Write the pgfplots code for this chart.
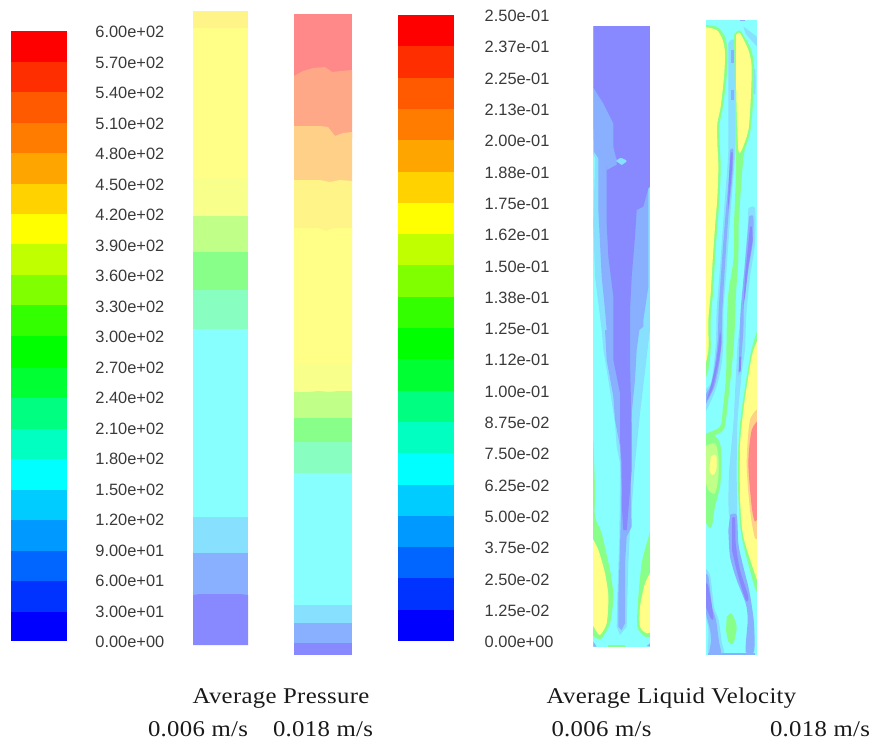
\documentclass[border=0pt]{standalone}
\usepackage{pgfplots}
\pgfplotsset{compat=1.18}
\usepackage{fontspec}
\setmainfont{Liberation Sans}
\newfontfamily\ttl[LetterSpace=1.5,FakeStretch=1.1]{Liberation Serif}
\definecolor{lab}{HTML}{3A3A3A}
\definecolor{P}{HTML}{8888FF}
\definecolor{B}{HTML}{88B0FF}
\definecolor{A}{HTML}{88E0FF}
\definecolor{C}{HTML}{88FFFF}
\definecolor{T}{HTML}{88FFC0}
\definecolor{G}{HTML}{88FF88}
\definecolor{L}{HTML}{C0FF88}
\definecolor{V}{HTML}{F8FF8A}
\definecolor{Y}{HTML}{FFFF88}
\definecolor{W}{HTML}{FFF488}
\definecolor{O}{HTML}{FFD088}
\definecolor{S}{HTML}{FFA888}
\definecolor{R}{HTML}{FF8888}
\definecolor{k1}{HTML}{FF0000}
\definecolor{k2}{HTML}{FF2E00}
\definecolor{k3}{HTML}{FF5A00}
\definecolor{k4}{HTML}{FF7C00}
\definecolor{k5}{HTML}{FFA500}
\definecolor{k6}{HTML}{FFD200}
\definecolor{k7}{HTML}{FFFF00}
\definecolor{k8}{HTML}{C0FF00}
\definecolor{k9}{HTML}{80FF00}
\definecolor{k10}{HTML}{33FF00}
\definecolor{k11}{HTML}{00FF00}
\definecolor{k12}{HTML}{00FF33}
\definecolor{k13}{HTML}{00FF80}
\definecolor{k14}{HTML}{00FFC0}
\definecolor{k15}{HTML}{00FFFF}
\definecolor{k16}{HTML}{00CCFF}
\definecolor{k17}{HTML}{0099FF}
\definecolor{k18}{HTML}{0066FF}
\definecolor{k19}{HTML}{0033FF}
\definecolor{k20}{HTML}{0000FF}
\newcommand\band[5]{\addplot[draw=none,fill=#5,forget plot] coordinates {(#1,#3) (#2,#3) (#2,#4) (#1,#4)} -- cycle;}
\newcommand\poly[2]{\addplot[draw=none,fill=#1,forget plot] coordinates {#2} -- cycle;}
\newcommand\spoly[2]{\addplot[draw=none,fill=#1,forget plot,smooth,tension=0.45] coordinates {#2} -- cycle;}
\newcommand\tick[3]{\node[anchor=east,text=lab,font=\fontsize{16.4}{18}\selectfont,inner sep=0pt] at (axis cs:#1,#2) {#3};}
\newcommand\tickw[3]{\node[anchor=west,text=lab,font=\fontsize{16.4}{18}\selectfont,inner sep=0pt] at (axis cs:#1,#2) {#3};}
\newcommand\ttxt[2]{\node[anchor=base,text=black!90,font=\ttl\fontsize{22.5}{24}\selectfont,inner sep=0pt] at (axis cs:#1) {#2};}
\pgfplotsset{base/.style={at={(0,0)},anchor=south west,scale only axis,width=874pt,height=744pt,hide axis,clip=false,y dir=reverse,no markers}}
\begin{document}
\begin{tikzpicture}
\useasboundingbox (0,0) rectangle (874pt,744pt);
% velocity panels, in the units of a 3x enlargement
\begin{axis}[base,xmin=-1740,xmax=882,ymin=-30,ymax=2202]
% --- 0.006 m/s
\band{40}{210}{48}{1910}{C}
\spoly{G}{(40,1280) (45,1440) (45,1520) (65,1570) (90,1680) (100,1760) (90,1840) (65,1885) (50,1885) (30,1870)}
\spoly{Y}{(35,1580) (55,1620) (75,1690) (85,1760) (80,1840) (60,1875) (50,1865) (35,1840)}
\spoly{G}{(215,1550) (200,1600) (185,1660) (175,1760) (172,1850) (195,1880) (215,1880)}
\spoly{Y}{(215,1680) (195,1720) (180,1790) (180,1850) (200,1870) (215,1865)}
\poly{A}{(40,230) (210,230) (210,960) (205,1000) (180,1210) (165,1360) (150,1560) (145,1660) (140,1850) (120,1875) (110,1850) (112,1760) (118,1580) (120,1360) (110,1310) (105,1240) (85,1110) (70,1020) (65,960) (55,880) (45,800) (40,640) (45,445) (40,430)}
\poly{B}{(40,232) (40,340) (42,425) (55,445) (55,600) (60,700) (65,800) (75,900) (80,960) (75,960) (80,1050) (100,1160) (105,1230) (120,1310) (125,1440) (120,1610) (115,1760) (115,1850) (125,1860) (135,1840) (135,1660) (140,1580) (155,1550) (150,1330) (155,1210) (165,1110) (170,1020) (178,960) (190,950) (190,930) (205,830) (205,535) (210,530) (210,232)}
\poly{P}{(40,48) (210,48) (210,530) (205,535) (190,590) (170,600) (165,680) (155,800) (150,900) (150,1060) (155,1260) (155,1380) (140,1560) (130,1560) (125,1480) (125,1360) (120,1290) (120,1150) (100,1050) (100,860) (85,740) (80,640) (80,470) (110,450) (100,410) (100,340) (70,280) (40,232)}
\poly{B}{(80,470) (110,446) (110,464) (80,480)}
\spoly{A}{(108,453) (122,444) (140,453) (125,465)}
\poly{B}{(40,1895) (50,1910) (40,1910)}
\poly{B}{(200,1908) (210,1900) (210,1910)}
\poly{G}{(85,1905) (135,1905) (135,1910) (85,1910)}
% --- 0.018 m/s
\band{378}{530}{30}{1935}{C}
\spoly{A}{(490,50) (535,85) (535,112) (497,72)}
\poly{B}{(480,30) (495,30) (495,34) (480,34)}
\spoly{A}{(520,180) (526,180) (526,250) (520,250)}
% left yellow with green rim
\spoly{G}{(370,45) (410,50) (435,80) (443,130) (440,200) (429,290) (419,340) (419,400) (422,470) (419,560) (412,650) (405,750) (399,850) (392,930) (392,1020) (385,1080) (370,1120)}
\spoly{Y}{(370,50) (410,60) (428,90) (435,130) (432,200) (422,290) (412,340) (412,400) (415,470) (412,560) (405,650) (398,750) (392,850) (385,930) (385,1020) (370,1090)}
% middle blue streak
\spoly{A}{(445,100) (465,100) (467,330) (466,420) (460,500) (452,600) (445,700) (438,800) (430,900) (430,990) (425,1060) (410,1130) (385,1190) (370,1210) (370,1150) (392,1120) (402,1060) (408,990) (410,900) (418,800) (425,700) (432,600) (440,500) (445,420) (445,330)}
\poly{B}{(452,120) (461,120) (461,158) (452,158)}
\poly{B}{(453,240) (462,240) (462,270) (453,270)}
\spoly{B}{(450,420) (460,420) (457,500) (445,620) (436,750) (427,900) (425,990) (418,1060) (403,1130) (370,1195) (370,1165) (393,1125) (405,1060) (413,990) (416,900) (426,750) (436,620) (447,500)}
\spoly{P}{(452,430) (458,430) (454,500) (444,600) (447,500)}
\spoly{P}{(420,960) (424,1000) (415,1060) (398,1135) (380,1170) (393,1125) (408,1060) (416,1000)}
% second yellow with green rim and band
\spoly{G}{(462,75) (480,62) (512,115) (522,170) (519,280) (510,370) (492,430) (484,520) (476,640) (475,750) (468,850) (464,960) (460,1020) (448,1140) (436,1240) (425,1265) (370,1290) (370,1275) (420,1250) (428,1200) (438,1100) (440,960) (445,850) (460,750) (462,640) (468,480) (466,300) (464,200)}
\spoly{Y}{(468,75) (480,70) (505,120) (515,170) (512,270) (505,360) (485,420) (475,420) (470,300) (468,200)}
% lobe at mid height
\spoly{G}{(370,1280) (400,1275) (420,1300) (425,1360) (420,1430) (405,1490) (395,1550) (385,1550) (370,1520)}
\spoly{L}{(372,1310) (405,1300) (415,1340) (415,1400) (405,1450) (385,1440) (372,1400)}
\spoly{Y}{(392,1340) (408,1335) (410,1370) (405,1390) (395,1395) (388,1380)}
% right streaks
\spoly{A}{(505,595) (525,595) (525,700) (510,800) (500,900) (497,960) (495,1020) (485,1090) (472,1240) (470,1390) (470,1515) (447,1515) (447,1390) (460,1240) (468,1090) (473,1000) (478,960) (488,850) (495,750) (503,650)}
\spoly{B}{(507,620) (520,620) (518,700) (503,790) (492,880) (490,960) (484,1040) (478,1090) (476,1090) (478,1000) (482,900) (494,770)}
\poly{P}{(510,650) (516,650) (518,690) (505,770) (495,860) (490,885) (495,800) (503,720)}
\poly{P}{(478,1040) (484,1040) (482,1085) (476,1085)}
\spoly{B}{(450,1515) (470,1515) (475,1600) (485,1650) (505,1730) (511,1760) (522,1840) (522,1925) (497,1925) (503,1830) (497,1780) (470,1710) (450,1640) (445,1560)}
\spoly{P}{(456,1525) (465,1525) (467,1600) (480,1680) (505,1760) (497,1770) (472,1690) (456,1620)}
\spoly{G}{(440,1820) (455,1810) (470,1850) (460,1900) (445,1895) (438,1860)}
% right yellow and red lobe
\spoly{G}{(535,950) (512,1030) (485,1200) (475,1310) (475,1460) (485,1580) (525,1735) (535,1735)}
\spoly{Y}{(535,985) (515,1040) (490,1200) (480,1310) (480,1460) (490,1580) (535,1722)}
\spoly{O}{(540,1190) (510,1230) (500,1360) (510,1500) (525,1585) (540,1575)}
\spoly{R}{(540,1225) (515,1260) (505,1360) (515,1490) (525,1535) (540,1510)}
% lower left
\spoly{A}{(370,1670) (390,1695) (402,1790) (416,1830) (425,1895) (432,1935) (385,1935) (385,1880) (384,1850) (370,1790)}
\spoly{B}{(370,1690) (385,1700) (396,1790) (408,1830) (417,1895) (423,1935) (388,1935) (393,1895) (390,1860) (370,1780)}
\spoly{P}{(370,1725) (384,1725) (400,1820) (392,1825) (370,1770)}
\poly{B}{(385,1930) (525,1930) (525,1935) (385,1935)}
% tidy the edges of the panels
\band{20}{40}{20}{1930}{white}
\band{210}{230}{20}{1930}{white}
\band{355}{378}{20}{1950}{white}
\band{530}{550}{20}{1950}{white}
\band{355}{550}{1935}{1960}{white}
\band{20}{230}{1910}{1930}{white}
\end{axis}
\begin{axis}[base,xmin=0,xmax=874,ymin=0,ymax=744]
% left colour bar
\band{11}{67}{31}{62}{k1}
\band{11}{67}{61.7}{92.3}{k2}
\band{11}{67}{92}{123}{k3}
\band{11}{67}{122.7}{153.3}{k4}
\band{11}{67}{153}{184}{k5}
\band{11}{67}{183.7}{214.3}{k6}
\band{11}{67}{214}{244.6}{k7}
\band{11}{67}{244.3}{275.3}{k8}
\band{11}{67}{275}{305.6}{k9}
\band{11}{67}{305.3}{336.3}{k10}
\band{11}{67}{336}{368}{k11}
\band{11}{67}{367.7}{398.6}{k12}
\band{11}{67}{398.3}{429}{k13}
\band{11}{67}{428.7}{459.6}{k14}
\band{11}{67}{459.3}{490.3}{k15}
\band{11}{67}{490}{520.3}{k16}
\band{11}{67}{520}{551.3}{k17}
\band{11}{67}{551}{581.3}{k18}
\band{11}{67}{581}{612}{k19}
\band{11}{67}{611.7}{641}{k20}
% right colour bar
\band{398}{454}{15}{46.6}{k1}
\band{398}{454}{46.3}{77.9}{k2}
\band{398}{454}{77.6}{109.2}{k3}
\band{398}{454}{108.9}{140.5}{k4}
\band{398}{454}{140.2}{171.8}{k5}
\band{398}{454}{171.5}{203.1}{k6}
\band{398}{454}{202.8}{234.4}{k7}
\band{398}{454}{234.1}{265.7}{k8}
\band{398}{454}{265.4}{297}{k9}
\band{398}{454}{296.7}{328.3}{k10}
\band{398}{454}{328}{359.6}{k11}
\band{398}{454}{359.3}{390.9}{k12}
\band{398}{454}{390.6}{422.2}{k13}
\band{398}{454}{421.9}{453.5}{k14}
\band{398}{454}{453.2}{484.8}{k15}
\band{398}{454}{484.5}{516.1}{k16}
\band{398}{454}{515.8}{547.4}{k17}
\band{398}{454}{547.1}{578.7}{k18}
\band{398}{454}{578.4}{610}{k19}
\band{398}{454}{609.7}{641}{k20}
% pressure 0.006
\band{193}{248}{11}{28.5}{W}
\band{193}{248}{28}{178.5}{Y}
\band{193}{248}{178}{216.5}{V}
\band{193}{248}{216}{252.5}{L}
\band{193}{248}{252}{290.5}{G}
\band{193}{248}{290}{329.5}{T}
\band{193}{248}{329}{517.5}{C}
\band{193}{248}{517}{553.5}{A}
\band{193}{248}{553}{595}{B}
\poly{P}{(193,595) (200,594) (240,594) (248,595) (248,645) (193,645)}
% pressure 0.018
\band{294}{352}{14}{80}{R}
\poly{S}{(294,76) (303,71) (313,68) (325,67) (332,72) (341,71) (352,70) (352,138) (294,138)}
\poly{O}{(294,126) (320,126) (328,127) (335,136) (343,133) (352,132) (352,182) (294,182)}
\poly{W}{(294,180) (320,180) (330,182) (340,180) (352,181) (352,232) (294,232)}
\poly{Y}{(294,228) (318,228) (326,231) (334,228) (352,228) (352,364) (294,364)}
\band{294}{352}{363}{393}{V}
\poly{L}{(294,392) (310,392) (318,391) (330,392) (338,391) (352,391) (352,418.5) (294,418.5)}
\band{294}{352}{418}{443}{G}
\band{294}{352}{442}{474}{T}
\band{294}{352}{473}{605.5}{C}
\band{294}{352}{605}{623.5}{A}
\band{294}{352}{623}{643.5}{B}
\band{294}{352}{643}{655}{P}
% tick labels
\tick{164.5}{32}{6.00e+02}
\tick{164.5}{62.5}{5.70e+02}
\tick{164.5}{93}{5.40e+02}
\tick{164.5}{123.5}{5.10e+02}
\tick{164.5}{154}{4.80e+02}
\tick{164.5}{184.5}{4.50e+02}
\tick{164.5}{215}{4.20e+02}
\tick{164.5}{245.5}{3.90e+02}
\tick{164.5}{276}{3.60e+02}
\tick{164.5}{306.5}{3.30e+02}
\tick{164.5}{337}{3.00e+02}
\tick{164.5}{367.5}{2.70e+02}
\tick{164.5}{398}{2.40e+02}
\tick{164.5}{428.5}{2.10e+02}
\tick{164.5}{459}{1.80e+02}
\tick{164.5}{489.5}{1.50e+02}
\tick{164.5}{520}{1.20e+02}
\tick{164.5}{550.5}{9.00e+01}
\tick{164.5}{581}{6.00e+01}
\tick{164.5}{611.5}{3.00e+01}
\tick{164.5}{642}{0.00e+00}
\tickw{484.5}{16}{2.50e-01}
\tickw{484.5}{47.3}{2.37e-01}
\tickw{484.5}{78.6}{2.25e-01}
\tickw{484.5}{109.9}{2.13e-01}
\tickw{484.5}{141.2}{2.00e-01}
\tickw{484.5}{172.5}{1.88e-01}
\tickw{484.5}{203.8}{1.75e-01}
\tickw{484.5}{235.1}{1.62e-01}
\tickw{484.5}{266.4}{1.50e-01}
\tickw{484.5}{297.7}{1.38e-01}
\tickw{484.5}{329}{1.25e-01}
\tickw{484.5}{360.3}{1.12e-01}
\tickw{484.5}{391.6}{1.00e-01}
\tickw{484.5}{422.9}{8.75e-02}
\tickw{484.5}{454.2}{7.50e-02}
\tickw{484.5}{485.5}{6.25e-02}
\tickw{484.5}{516.8}{5.00e-02}
\tickw{484.5}{548.1}{3.75e-02}
\tickw{484.5}{579.4}{2.50e-02}
\tickw{484.5}{610.7}{1.25e-02}
\tickw{484.5}{642}{0.00e+00}
% titles
\ttxt{281,703}{Average Pressure}
\ttxt{198,736}{0.006 m/s}
\ttxt{323,736}{0.018 m/s}
\ttxt{671.5,703}{Average Liquid Velocity}
\ttxt{601.5,736}{0.006 m/s}
\ttxt{820,736}{0.018 m/s}
\end{axis}
\end{tikzpicture}
\end{document}
